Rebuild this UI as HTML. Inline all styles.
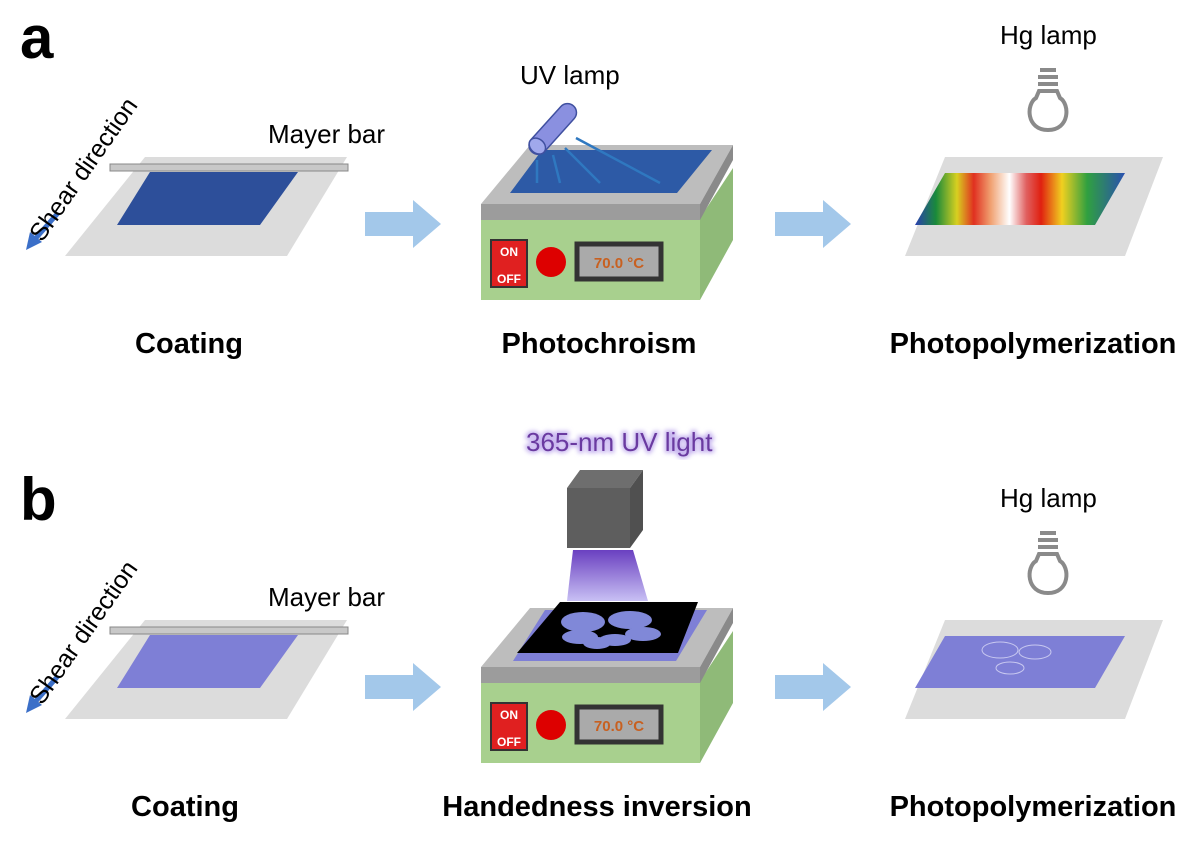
<!DOCTYPE html>
<html><head><meta charset="utf-8"><style>
body{margin:0;background:#fff}
svg text{font-family:"Liberation Sans",Arial,sans-serif}
</style></head><body>
<svg width="1200" height="850" viewBox="0 0 1200 850" xmlns="http://www.w3.org/2000/svg">
<defs>
<linearGradient id="rb" x1="0" x2="1" y1="0" y2="0">
<stop offset="0" stop-color="#2a3fb0"/><stop offset="0.1" stop-color="#1a8a3a"/><stop offset="0.2" stop-color="#d8d020"/><stop offset="0.28" stop-color="#e03020"/><stop offset="0.36" stop-color="#f0a070"/><stop offset="0.45" stop-color="#ffffff"/><stop offset="0.53" stop-color="#e06060"/><stop offset="0.6" stop-color="#e02010"/><stop offset="0.7" stop-color="#f0d020"/><stop offset="0.82" stop-color="#30a040"/><stop offset="1" stop-color="#2a50b0"/>
</linearGradient>
<linearGradient id="beam" x1="0" x2="0" y1="0" y2="1"><stop offset="0" stop-color="#6a40c0"/><stop offset="1" stop-color="#c8c0f4"/></linearGradient>
<filter id="glow"><feGaussianBlur stdDeviation="2"/></filter>
<g id="arrow"><polygon points="0,-12 48,-12 48,-24 76,0 48,24 48,12 0,12" fill="#a3c8ea"/></g>
<g id="bulb" fill="none" stroke="#8a8a8a" stroke-width="4">
<line x1="-8" y1="-32" x2="8" y2="-32"/><line x1="-10" y1="-25" x2="10" y2="-25"/><line x1="-10" y1="-18" x2="10" y2="-18"/>
<path d="M-9,-11 L9,-11 L12,-4 C22,2 22,28 0,28 C-22,28 -22,2 -12,-4 Z"/>
</g>
<g id="plate">
<polygon points="700,218 733,168 733,240 700,300" fill="#8fba78"/>
<rect x="481" y="218" width="219" height="82" fill="#a8d08e"/>
<polygon points="481,204 700,204 733,145 530,145" fill="#bdbdbd"/>
<polygon points="481,204 700,204 700,220 481,220" fill="#9c9c9c"/>
<polygon points="700,204 733,145 733,160 700,220" fill="#8a8a8a"/>
<rect x="491" y="240" width="36" height="47" fill="#e02020" stroke="#333" stroke-width="2"/>
<text x="509" y="256" font-size="12" font-weight="bold" fill="#fff" text-anchor="middle">ON</text>
<text x="509" y="283" font-size="12" font-weight="bold" fill="#fff" text-anchor="middle">OFF</text>
<circle cx="551" cy="262" r="15" fill="#dd0000"/>
<rect x="577" y="244" width="84" height="35" fill="#aaa" stroke="#333" stroke-width="5"/>
<text x="619" y="268" font-size="15" font-weight="bold" fill="#c86020" text-anchor="middle">70.0 °C</text>
</g>
</defs>

<text x="20" y="58" font-size="60" font-weight="bold">a</text>
<text x="20" y="520" font-size="60" font-weight="bold">b</text>

<!-- a coating -->
<polygon points="65,256 287,256 347,157 145,157" fill="#dcdcdc"/>
<polygon points="117,225 260,225 298,172 150,172" fill="#2d4f9a"/>
<rect x="110" y="164" width="238" height="7" fill="#c8c8c8" stroke="#888"/>
<text x="268" y="143" font-size="26">Mayer bar</text>
<line x1="58" y1="213" x2="36" y2="238" stroke="#3b6fc8" stroke-width="5"/>
<polygon points="26,250 30,232 42,242" fill="#3b6fc8"/>
<text font-size="25" transform="translate(42,243) rotate(-55)">Shear direction</text>
<text x="189" y="353" font-size="29" font-weight="bold" text-anchor="middle">Coating</text>

<use href="#arrow" x="365" y="224"/>
<use href="#arrow" x="775" y="224"/>

<!-- a photochroism -->
<use href="#plate"/>
<polygon points="510,193 677,193 712,150 542,150" fill="#2d5aa6"/>
<g stroke="#2f78c0" stroke-width="2.5">
<line x1="537" y1="160" x2="537" y2="183"/><line x1="553" y1="155" x2="560" y2="183"/>
<line x1="565" y1="148" x2="600" y2="183"/><line x1="576" y1="138" x2="660" y2="183"/>
</g>
<g transform="translate(532,152) rotate(-48)">
<rect x="0" y="-9" width="62" height="18" rx="9" fill="#8a90e0" stroke="#4050a0" stroke-width="1.5"/>
<ellipse cx="8" cy="0" rx="7" ry="9" fill="#a0a8ec" stroke="#4050a0" stroke-width="1.5"/>
</g>
<text x="520" y="84" font-size="26">UV lamp</text>
<text x="599" y="353" font-size="29" font-weight="bold" text-anchor="middle">Photochroism</text>

<!-- a photopolymerization -->
<polygon points="905,256 1125,256 1163,157 945,157" fill="#dcdcdc"/>
<polygon points="915,225 1095,225 1125,173 945,173" fill="url(#rb)"/>
<use href="#bulb" x="1048" y="102"/>
<text x="1000" y="44" font-size="26">Hg lamp</text>
<text x="1033" y="353" font-size="29" font-weight="bold" text-anchor="middle">Photopolymerization</text>

<!-- b coating -->
<polygon points="65,719 287,719 347,620 145,620" fill="#dcdcdc"/>
<polygon points="117,688 260,688 298,635 150,635" fill="#7e7fd6"/>
<rect x="110" y="627" width="238" height="7" fill="#c8c8c8" stroke="#888"/>
<text x="268" y="606" font-size="26">Mayer bar</text>
<line x1="58" y1="676" x2="36" y2="701" stroke="#3b6fc8" stroke-width="5"/>
<polygon points="26,713 30,695 42,705" fill="#3b6fc8"/>
<text font-size="25" transform="translate(42,706) rotate(-55)">Shear direction</text>
<text x="185" y="816" font-size="29" font-weight="bold" text-anchor="middle">Coating</text>

<use href="#arrow" x="365" y="687"/>
<use href="#arrow" x="775" y="687"/>

<!-- b handedness -->
<g transform="translate(0,463)"><use href="#plate"/></g>
<polygon points="513,661 676,661 707,610 545,610" fill="#7e7fd6"/>
<polygon points="517,653 678,653 698,602 560,602" fill="#000"/>
<g fill="#8088d8">
<ellipse cx="583" cy="622" rx="22" ry="10"/><ellipse cx="630" cy="620" rx="22" ry="9"/>
<ellipse cx="580" cy="637" rx="18" ry="7"/><ellipse cx="643" cy="634" rx="18" ry="7"/>
<ellipse cx="615" cy="640" rx="16" ry="6"/><ellipse cx="597" cy="643" rx="14" ry="6"/>
</g>
<polygon points="573,550 633,550 648,601 567,601" fill="url(#beam)"/>
<polygon points="567,488 580,470 643,470 630,488" fill="#6e6e6e"/>
<polygon points="630,488 643,470 643,530 630,548" fill="#505050"/>
<rect x="567" y="488" width="63" height="60" fill="#5e5e5e"/>
<text x="526" y="451" font-size="26" fill="#c9b8f0" stroke="#c9b8f0" stroke-width="4" filter="url(#glow)">365-nm UV light</text>
<text x="526" y="451" font-size="26" fill="#6a3aa0">365-nm UV light</text>
<text x="597" y="816" font-size="29" font-weight="bold" text-anchor="middle">Handedness inversion</text>

<!-- b photopolymerization -->
<polygon points="905,719 1125,719 1163,620 945,620" fill="#dcdcdc"/>
<polygon points="915,688 1095,688 1125,636 945,636" fill="#7e7fd6"/>
<g fill="none" stroke="#c8c8f0" stroke-width="1"><ellipse cx="1000" cy="650" rx="18" ry="8"/><ellipse cx="1035" cy="652" rx="16" ry="7"/><ellipse cx="1010" cy="668" rx="14" ry="6"/></g>
<use href="#bulb" x="1048" y="565"/>
<text x="1000" y="507" font-size="26">Hg lamp</text>
<text x="1033" y="816" font-size="29" font-weight="bold" text-anchor="middle">Photopolymerization</text>
</svg>
</body></html>
